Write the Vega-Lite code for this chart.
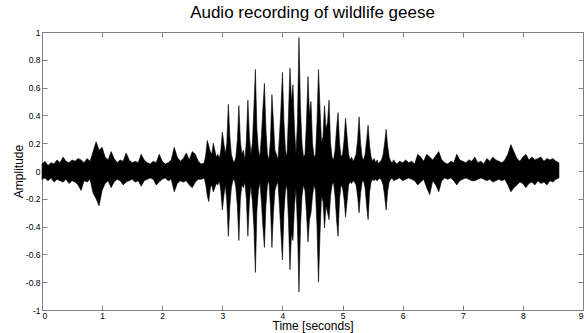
{
  "$schema": "https://vega.github.io/schema/vega-lite/v6.json",
  "autosize": {"type": "none"},
  "width": 541,
  "height": 278,
  "padding": {"left": 42, "top": 32, "right": 4, "bottom": 23},
  "background": "white",
  "title": {"text": "Audio recording of wildlife geese", "font": "Liberation Sans", "fontSize": 17, "fontWeight": "normal", "color": "#000000", "offset": 6, "anchor": "middle"},
  "config": {
    "view": {"stroke": null},
    "axis": {"grid": false, "domainColor": "#808080", "tickColor": "#808080", "labelFont": "Liberation Sans", "labelFontSize": 8.5, "labelColor": "#000000", "titleFont": "Liberation Sans", "titleFontSize": 12, "titleFontWeight": "normal", "titleColor": "#000000", "tickSize": -5, "domainWidth": 1}
  },
  "data": {"values": [
    {"t":0.00,"hi":0.05,"lo":-0.06},{"t":0.05,"hi":0.07,"lo":-0.05},{"t":0.10,"hi":0.04,"lo":-0.07},{"t":0.15,"hi":0.06,"lo":-0.05},{"t":0.20,"hi":0.05,"lo":-0.08},{"t":0.25,"hi":0.08,"lo":-0.06},{"t":0.30,"hi":0.06,"lo":-0.07},{"t":0.35,"hi":0.10,"lo":-0.08},{"t":0.40,"hi":0.07,"lo":-0.06},{"t":0.45,"hi":0.06,"lo":-0.09},{"t":0.50,"hi":0.08,"lo":-0.07},{"t":0.55,"hi":0.07,"lo":-0.08},{"t":0.60,"hi":0.09,"lo":-0.10},{"t":0.65,"hi":0.08,"lo":-0.14},{"t":0.70,"hi":0.06,"lo":-0.07},{"t":0.75,"hi":0.09,"lo":-0.08},{"t":0.80,"hi":0.07,"lo":-0.06},{"t":0.85,"hi":0.14,"lo":-0.16},{"t":0.90,"hi":0.21,"lo":-0.20},{"t":0.95,"hi":0.15,"lo":-0.25},{"t":1.00,"hi":0.17,"lo":-0.14},{"t":1.05,"hi":0.10,"lo":-0.09},{"t":1.10,"hi":0.08,"lo":-0.07},{"t":1.15,"hi":0.14,"lo":-0.12},{"t":1.20,"hi":0.09,"lo":-0.08},{"t":1.25,"hi":0.06,"lo":-0.06},{"t":1.30,"hi":0.08,"lo":-0.07},{"t":1.35,"hi":0.07,"lo":-0.10},{"t":1.40,"hi":0.13,"lo":-0.08},{"t":1.45,"hi":0.08,"lo":-0.07},{"t":1.50,"hi":0.06,"lo":-0.06},{"t":1.55,"hi":0.07,"lo":-0.08},{"t":1.60,"hi":0.06,"lo":-0.07},{"t":1.65,"hi":0.12,"lo":-0.11},{"t":1.70,"hi":0.08,"lo":-0.07},{"t":1.75,"hi":0.06,"lo":-0.06},{"t":1.80,"hi":0.05,"lo":-0.05},{"t":1.85,"hi":0.07,"lo":-0.06},{"t":1.90,"hi":0.06,"lo":-0.10},{"t":1.95,"hi":0.12,"lo":-0.08},{"t":2.00,"hi":0.07,"lo":-0.06},{"t":2.05,"hi":0.05,"lo":-0.05},{"t":2.10,"hi":0.06,"lo":-0.07},{"t":2.15,"hi":0.08,"lo":-0.06},{"t":2.20,"hi":0.17,"lo":-0.15},{"t":2.25,"hi":0.10,"lo":-0.09},{"t":2.30,"hi":0.07,"lo":-0.07},{"t":2.35,"hi":0.09,"lo":-0.08},{"t":2.40,"hi":0.13,"lo":-0.07},{"t":2.45,"hi":0.08,"lo":-0.10},{"t":2.50,"hi":0.14,"lo":-0.12},{"t":2.55,"hi":0.12,"lo":-0.08},{"t":2.60,"hi":0.07,"lo":-0.06},{"t":2.65,"hi":0.05,"lo":-0.06},{"t":2.70,"hi":0.06,"lo":-0.05},
    {"t":2.725,"hi":0.12,"lo":-0.10},{"t":2.75,"hi":0.22,"lo":-0.18},{"t":2.775,"hi":0.18,"lo":-0.22},{"t":2.80,"hi":0.14,"lo":-0.12},{"t":2.825,"hi":0.12,"lo":-0.10},{"t":2.85,"hi":0.20,"lo":-0.15},{"t":2.875,"hi":0.15,"lo":-0.12},{"t":2.90,"hi":0.10,"lo":-0.09},{"t":2.925,"hi":0.12,"lo":-0.10},{"t":2.95,"hi":0.09,"lo":-0.07},{"t":2.975,"hi":0.15,"lo":-0.14},{"t":3.00,"hi":0.28,"lo":-0.28},{"t":3.025,"hi":0.20,"lo":-0.18},{"t":3.05,"hi":0.12,"lo":-0.10},{"t":3.075,"hi":0.20,"lo":-0.22},{"t":3.10,"hi":0.48,"lo":-0.47},{"t":3.125,"hi":0.25,"lo":-0.25},{"t":3.15,"hi":0.12,"lo":-0.12},{"t":3.175,"hi":0.08,"lo":-0.07},{"t":3.20,"hi":0.06,"lo":-0.06},{"t":3.225,"hi":0.10,"lo":-0.12},{"t":3.25,"hi":0.22,"lo":-0.25},{"t":3.275,"hi":0.47,"lo":-0.50},{"t":3.30,"hi":0.22,"lo":-0.20},{"t":3.325,"hi":0.12,"lo":-0.10},{"t":3.35,"hi":0.15,"lo":-0.12},{"t":3.375,"hi":0.08,"lo":-0.08},{"t":3.40,"hi":0.22,"lo":-0.20},{"t":3.425,"hi":0.51,"lo":-0.47},{"t":3.45,"hi":0.25,"lo":-0.22},{"t":3.475,"hi":0.12,"lo":-0.10},{"t":3.50,"hi":0.20,"lo":-0.22},{"t":3.525,"hi":0.45,"lo":-0.40},{"t":3.55,"hi":0.73,"lo":-0.73},{"t":3.575,"hi":0.30,"lo":-0.28},{"t":3.60,"hi":0.15,"lo":-0.14},{"t":3.625,"hi":0.10,"lo":-0.08},{"t":3.65,"hi":0.25,"lo":-0.22},{"t":3.675,"hi":0.45,"lo":-0.40},{"t":3.70,"hi":0.63,"lo":-0.55},{"t":3.725,"hi":0.30,"lo":-0.25},{"t":3.75,"hi":0.12,"lo":-0.10},{"t":3.775,"hi":0.08,"lo":-0.07},{"t":3.80,"hi":0.22,"lo":-0.25},{"t":3.825,"hi":0.55,"lo":-0.55},{"t":3.85,"hi":0.35,"lo":-0.30},{"t":3.875,"hi":0.15,"lo":-0.14},{"t":3.90,"hi":0.12,"lo":-0.10},{"t":3.925,"hi":0.08,"lo":-0.08},{"t":3.95,"hi":0.25,"lo":-0.25},{"t":3.975,"hi":0.45,"lo":-0.45},{"t":4.00,"hi":0.71,"lo":-0.64},{"t":4.025,"hi":0.35,"lo":-0.30},{"t":4.05,"hi":0.15,"lo":-0.14},{"t":4.075,"hi":0.10,"lo":-0.10},{"t":4.10,"hi":0.40,"lo":-0.35},{"t":4.125,"hi":0.74,"lo":-0.71},{"t":4.15,"hi":0.50,"lo":-0.45},{"t":4.175,"hi":0.62,"lo":-0.50},{"t":4.20,"hi":0.30,"lo":-0.25},{"t":4.225,"hi":0.12,"lo":-0.12},{"t":4.25,"hi":0.35,"lo":-0.40},{"t":4.275,"hi":0.96,"lo":-0.87},{"t":4.30,"hi":0.45,"lo":-0.40},{"t":4.325,"hi":0.20,"lo":-0.18},{"t":4.35,"hi":0.10,"lo":-0.10},{"t":4.375,"hi":0.12,"lo":-0.14},{"t":4.40,"hi":0.35,"lo":-0.30},{"t":4.425,"hi":0.68,"lo":-0.51},{"t":4.45,"hi":0.40,"lo":-0.35},{"t":4.475,"hi":0.50,"lo":-0.30},{"t":4.50,"hi":0.20,"lo":-0.18},{"t":4.525,"hi":0.10,"lo":-0.10},{"t":4.55,"hi":0.12,"lo":-0.14},{"t":4.575,"hi":0.35,"lo":-0.40},{"t":4.60,"hi":0.73,"lo":-0.80},{"t":4.625,"hi":0.45,"lo":-0.45},{"t":4.65,"hi":0.20,"lo":-0.18},{"t":4.675,"hi":0.25,"lo":-0.22},{"t":4.70,"hi":0.47,"lo":-0.41},{"t":4.725,"hi":0.30,"lo":-0.25},{"t":4.75,"hi":0.35,"lo":-0.30},{"t":4.775,"hi":0.51,"lo":-0.35},{"t":4.80,"hi":0.20,"lo":-0.18},{"t":4.825,"hi":0.10,"lo":-0.10},{"t":4.85,"hi":0.08,"lo":-0.08},{"t":4.875,"hi":0.15,"lo":-0.18},{"t":4.90,"hi":0.30,"lo":-0.35},{"t":4.925,"hi":0.42,"lo":-0.47},{"t":4.95,"hi":0.20,"lo":-0.20},{"t":4.975,"hi":0.10,"lo":-0.10},{"t":5.00,"hi":0.12,"lo":-0.12},{"t":5.025,"hi":0.22,"lo":-0.20},{"t":5.05,"hi":0.38,"lo":-0.33},{"t":5.075,"hi":0.25,"lo":-0.22},{"t":5.10,"hi":0.12,"lo":-0.10},{"t":5.125,"hi":0.08,"lo":-0.08},{"t":5.15,"hi":0.10,"lo":-0.09},{"t":5.175,"hi":0.07,"lo":-0.07},{"t":5.20,"hi":0.09,"lo":-0.08},{"t":5.225,"hi":0.12,"lo":-0.10},{"t":5.25,"hi":0.22,"lo":-0.18},{"t":5.275,"hi":0.39,"lo":-0.30},{"t":5.30,"hi":0.20,"lo":-0.16},{"t":5.325,"hi":0.10,"lo":-0.08},{"t":5.35,"hi":0.08,"lo":-0.07},{"t":5.375,"hi":0.12,"lo":-0.12},{"t":5.40,"hi":0.22,"lo":-0.25},{"t":5.425,"hi":0.33,"lo":-0.35},{"t":5.45,"hi":0.18,"lo":-0.15},{"t":5.475,"hi":0.10,"lo":-0.08},{"t":5.50,"hi":0.07,"lo":-0.06},{"t":5.525,"hi":0.09,"lo":-0.07},{"t":5.55,"hi":0.06,"lo":-0.06},{"t":5.575,"hi":0.08,"lo":-0.07},{"t":5.60,"hi":0.05,"lo":-0.06},{"t":5.625,"hi":0.07,"lo":-0.05},{"t":5.65,"hi":0.08,"lo":-0.07},{"t":5.675,"hi":0.12,"lo":-0.10},{"t":5.70,"hi":0.20,"lo":-0.18},{"t":5.725,"hi":0.30,"lo":-0.28},{"t":5.75,"hi":0.18,"lo":-0.15},{"t":5.775,"hi":0.10,"lo":-0.08},{"t":5.80,"hi":0.07,"lo":-0.06},{"t":5.825,"hi":0.06,"lo":-0.05},{"t":5.85,"hi":0.08,"lo":-0.07},
    {"t":5.90,"hi":0.05,"lo":-0.06},{"t":5.95,"hi":0.07,"lo":-0.05},{"t":6.00,"hi":0.06,"lo":-0.07},{"t":6.05,"hi":0.08,"lo":-0.06},{"t":6.10,"hi":0.06,"lo":-0.05},{"t":6.15,"hi":0.07,"lo":-0.06},{"t":6.20,"hi":0.05,"lo":-0.07},{"t":6.25,"hi":0.12,"lo":-0.10},{"t":6.30,"hi":0.10,"lo":-0.08},{"t":6.35,"hi":0.07,"lo":-0.06},{"t":6.40,"hi":0.12,"lo":-0.12},{"t":6.45,"hi":0.10,"lo":-0.17},{"t":6.50,"hi":0.08,"lo":-0.07},{"t":6.55,"hi":0.11,"lo":-0.10},{"t":6.60,"hi":0.14,"lo":-0.15},{"t":6.65,"hi":0.08,"lo":-0.07},{"t":6.70,"hi":0.06,"lo":-0.05},{"t":6.75,"hi":0.05,"lo":-0.06},{"t":6.80,"hi":0.07,"lo":-0.05},{"t":6.85,"hi":0.06,"lo":-0.07},{"t":6.90,"hi":0.12,"lo":-0.10},{"t":6.95,"hi":0.08,"lo":-0.07},{"t":7.00,"hi":0.07,"lo":-0.06},{"t":7.05,"hi":0.06,"lo":-0.05},{"t":7.10,"hi":0.08,"lo":-0.06},{"t":7.15,"hi":0.07,"lo":-0.07},{"t":7.20,"hi":0.10,"lo":-0.07},{"t":7.25,"hi":0.06,"lo":-0.06},{"t":7.30,"hi":0.07,"lo":-0.05},{"t":7.35,"hi":0.05,"lo":-0.06},{"t":7.40,"hi":0.09,"lo":-0.07},{"t":7.45,"hi":0.07,"lo":-0.06},{"t":7.50,"hi":0.10,"lo":-0.08},{"t":7.55,"hi":0.08,"lo":-0.07},{"t":7.60,"hi":0.07,"lo":-0.06},{"t":7.65,"hi":0.06,"lo":-0.07},{"t":7.70,"hi":0.08,"lo":-0.06},{"t":7.75,"hi":0.12,"lo":-0.10},{"t":7.80,"hi":0.19,"lo":-0.15},{"t":7.85,"hi":0.14,"lo":-0.12},{"t":7.90,"hi":0.09,"lo":-0.10},{"t":7.95,"hi":0.07,"lo":-0.08},{"t":8.00,"hi":0.10,"lo":-0.09},{"t":8.05,"hi":0.12,"lo":-0.12},{"t":8.10,"hi":0.08,"lo":-0.09},{"t":8.15,"hi":0.10,"lo":-0.08},{"t":8.20,"hi":0.08,"lo":-0.10},{"t":8.25,"hi":0.09,"lo":-0.07},{"t":8.30,"hi":0.10,"lo":-0.09},{"t":8.35,"hi":0.07,"lo":-0.08},{"t":8.40,"hi":0.09,"lo":-0.10},{"t":8.45,"hi":0.08,"lo":-0.07},{"t":8.50,"hi":0.09,"lo":-0.08},{"t":8.55,"hi":0.07,"lo":-0.06},{"t":8.60,"hi":0.06,"lo":-0.05}
  ]},
  "layer": [
    {
      "mark": {"type": "area", "color": "#000000", "stroke": "#000000", "strokeWidth": 0.6, "interpolate": "linear"},
      "encoding": {
        "x": {"field": "t", "type": "quantitative", "scale": {"domain": [0, 9], "nice": false, "zero": false}, "axis": {"title": "Time [seconds]", "values": [0,1,2,3,4,5,6,7,8,9], "labelPadding": 6, "titlePadding": 1, "orient": "bottom"}},
        "y": {"field": "hi", "type": "quantitative", "scale": {"domain": [-1, 1], "nice": false}, "axis": {"title": "Amplitude", "values": [-1,-0.8,-0.6,-0.4,-0.2,0,0.2,0.4,0.6,0.8,1], "labelExpr": "'' + datum.value", "labelPadding": 7, "titlePadding": 0, "orient": "left"}},
        "y2": {"field": "lo"}
      }
    },
    {
      "mark": {"type": "area", "opacity": 0},
      "encoding": {
        "x": {"field": "t", "type": "quantitative", "scale": {"domain": [0, 9], "nice": false, "zero": false}, "axis": {"title": null, "values": [0,1,2,3,4,5,6,7,8,9], "labels": false, "orient": "top"}},
        "y": {"field": "hi", "type": "quantitative", "scale": {"domain": [-1, 1], "nice": false}, "axis": {"title": null, "values": [-1,-0.8,-0.6,-0.4,-0.2,0,0.2,0.4,0.6,0.8,1], "labels": false, "orient": "right"}},
        "y2": {"field": "lo"}
      }
    }
  ],
  "resolve": {"axis": {"x": "independent", "y": "independent"}}
}
